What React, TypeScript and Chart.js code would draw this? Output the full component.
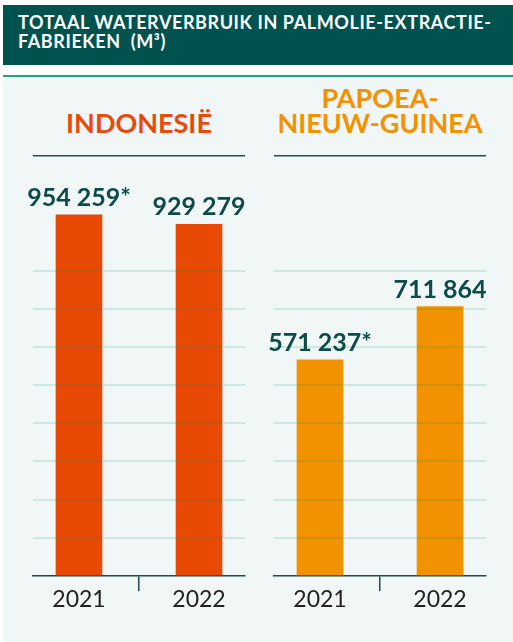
import React, { useEffect, useRef } from "react";
import { Chart, registerables } from "chart.js";

Chart.register(...registerables);

// ---- data ----
const years = ["2021", "2022"];
const indonesiaValues = [954259, 929279];
const indonesiaAsterisk = [true, false];
const pngValues = [571237, 711864];
const pngAsterisk = [true, false];
const yMax = 1110000;
const gridStep = 100000;
const gridHighest = 900000;

// ---- styles ----
const DARK = "#1d4e4b";
const LIGHT_GRID = "rgba(0,140,105,0.15)";
const LABEL_COLOR = "#0c4b48";
const FONT = "Lato, 'Open Sans', 'Noto Sans', sans-serif";

function formatValue(v: number, star: boolean) {
  const s = String(v).replace(/\B(?=(\d{3})+(?!\d))/g, " ");
  return star ? s + "*" : s;
}

function makeValueLabelPlugin(values: number[], stars: boolean[]) {
  return {
    id: "valueLabels",
    afterDraw(chart: any) {
      const ctx = chart.ctx;
      const meta = chart.getDatasetMeta(0);
      ctx.save();
      ctx.fillStyle = LABEL_COLOR;
      ctx.font = `bold 25px ${FONT}`;
      ctx.textAlign = "center";
      ctx.textBaseline = "alphabetic";
      meta.data.forEach((el: any, i: number) => {
        ctx.fillText(formatValue(values[i], stars[i]), el.x, el.y - 9);
      });
      ctx.restore();
    },
  };
}

function PanelChart(props: {
  values: number[];
  stars: boolean[];
  color: string;
  left: number;
}) {
  const ref = useRef<HTMLCanvasElement>(null);
  useEffect(() => {
    const { values, stars, color } = props;
    const chart = new Chart(ref.current as HTMLCanvasElement, {
      type: "bar",
      data: {
        datasets: [
          {
            data: values.map((v, i) => ({ x: i, y: v })) as any,
            backgroundColor: color,
            borderWidth: 0,
            barThickness: 46,
          },
        ],
      },
      options: {
        animation: false,
        responsive: false,
        maintainAspectRatio: false,
        layout: { padding: { left: 13, right: 15, top: 16, bottom: 26 } },
        plugins: {
          legend: { display: false },
          tooltip: { enabled: false },
        },
        scales: {
          x: {
            type: "linear",
            offset: false,
            min: -0.383,
            max: 1.383,
            afterBuildTicks: (s: any) => {
              s.ticks = [{ value: 0 }, { value: 0.5 }, { value: 1 }];
            },
            afterFit: (s: any) => {
              s.height = 40;
            },
            grid: {
              offset: false,
              drawOnChartArea: false,
              drawTicks: true,
              tickLength: 15,
              lineWidth: 1.5,
              color: (c: any) =>
                c.tick && c.tick.value === 0.5 ? DARK : "rgba(0,0,0,0)",
            },
            border: { display: true, color: DARK, width: 1.5 },
            ticks: {
              autoSkip: false,
              maxRotation: 0,
              padding: -5,
              color: "#222222",
              font: { family: FONT, size: 23 },
              callback: (v: any) => years[v as number] ?? "",
            },
          },
          y: {
            min: 0,
            max: yMax,
            ticks: { display: false, stepSize: gridStep },
            border: { display: false },
            grid: {
              z: 1,
              drawTicks: false,
              lineWidth: (c: any) => (c.tick && c.tick.value === yMax ? 1.5 : 2),
              color: (c: any) => {
                const v = c.tick ? c.tick.value : 0;
                if (v === yMax) return DARK;
                if (v > 0 && v <= gridHighest) return LIGHT_GRID;
                return "rgba(0,0,0,0)";
              },
            },
          },
        },
      },
      plugins: [makeValueLabelPlugin(values, stars)],
    } as any);
    return () => chart.destroy();
  }, []);
  return (
    <canvas
      ref={ref}
      width={240}
      height={502}
      style={{
        position: "absolute",
        left: props.left,
        top: 140,
        width: 240,
        height: 502,
        display: "block",
      }}
    />
  );
}

export default function App() {
  const titleStyle: React.CSSProperties = {
    position: "absolute",
    fontFamily: FONT,
    fontSize: 27,
    fontWeight: 700,
    lineHeight: "25px",
    textAlign: "center",
    width: 240,
    whiteSpace: "nowrap",
  };
  return (
    <div
      style={{
        position: "absolute",
        left: 0,
        top: 0,
        width: 513,
        height: 642,
        background: "#ffffff",
        overflow: "hidden",
      }}
    >
      <div
        style={{
          position: "absolute",
          left: 3,
          top: 5,
          width: 510,
          height: 60,
          background: "#00524f",
        }}
      />
      <div
        style={{
          position: "absolute",
          left: 18,
          top: 13,
          color: "#ffffff",
          fontFamily: FONT,
          fontWeight: 700,
          fontSize: 18,
          letterSpacing: "0.6px",
          lineHeight: "19px",
          whiteSpace: "nowrap",
        }}
      >
        TOTAAL WATERVERBRUIK IN PALMOLIE-EXTRACTIE-
        <br />
        {"FABRIEKEN\u00a0 (M³)"}
      </div>
      <div
        style={{
          position: "absolute",
          left: 3,
          top: 75,
          width: 510,
          height: 2,
          background: "#23a07c",
        }}
      />
      <div
        style={{
          position: "absolute",
          left: 3,
          top: 77,
          width: 510,
          height: 565,
          background: "#f1f7f7",
        }}
      />
      <div style={{ ...titleStyle, left: 19, top: 110, color: "#e84a0c" }}>
        INDONESIË
      </div>
      <div style={{ ...titleStyle, left: 260, top: 85, color: "#f39200" }}>
        PAPOEA-
        <br />
        NIEUW-GUINEA
      </div>
      <PanelChart
        values={indonesiaValues}
        stars={indonesiaAsterisk}
        color="#e84a05"
        left={20}
      />
      <PanelChart
        values={pngValues}
        stars={pngAsterisk}
        color="#f39200"
        left={261}
      />
    </div>
  );
}
